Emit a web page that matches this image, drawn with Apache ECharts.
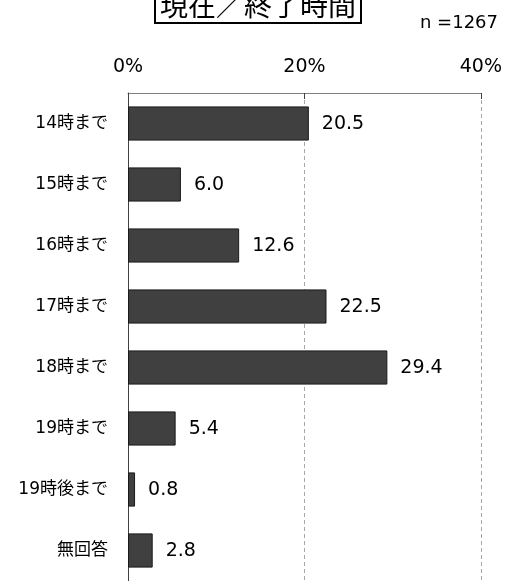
<!DOCTYPE html>
<html>
<head>
<meta charset="utf-8">
<script src="https://cdn.jsdelivr.net/npm/echarts@6/dist/echarts.min.js"></script>
<style>
  html, body { margin: 0; padding: 0; background: #fff; }
  #chart { width: 505px; height: 581px; }
</style>
</head>
<body>
<div id="chart"></div>
<script>
// 終了時間の分布（%）
var titleText = '現在／終了時間';
var sampleNote = 'n =1267';
var categories = ['14時まで', '15時まで', '16時まで', '17時まで', '18時まで', '19時まで', '19時後まで', '無回答'];
var values = [20.5, 6.0, 12.6, 22.5, 29.4, 5.4, 0.8, 2.8];
var axisMin = 0;
var axisMax = 40;
var axisStep = 20;

var latin = '"DejaVu Sans", "Noto Sans CJK JP", sans-serif';
var cjk = '"Noto Sans CJK JP", sans-serif';

var chart = echarts.init(document.getElementById('chart'), null, { renderer: 'canvas' });

chart.setOption({
  backgroundColor: '#ffffff',
  animation: false,
  title: {
    text: titleText,
    left: 155,
    top: -13,
    padding: [3, 5, 3, 5],
    borderColor: '#000000',
    borderWidth: 2,
    textStyle: {
      fontFamily: cjk,
      fontSize: 28,
      fontWeight: 'normal',
      color: '#000000',
      lineHeight: 30
    }
  },
  graphic: [{
    type: 'text',
    right: 7,
    top: 14,
    style: {
      text: sampleNote,
      font: '18px "DejaVu Sans", sans-serif',
      fill: '#000000'
    }
  }],
  grid: { left: 128, top: 93, width: 353, height: 492 },
  xAxis: {
    type: 'value',
    position: 'top',
    min: axisMin,
    max: axisMax,
    interval: axisStep,
    axisLine: { show: true, lineStyle: { color: '#808080', width: 1 } },
    axisTick: { show: true, inside: true, length: 6, lineStyle: { color: '#404040' } },
    axisLabel: {
      formatter: '{value}%',
      fontFamily: latin,
      fontSize: 19,
      color: '#000000',
      margin: 16
    },
    splitLine: { show: true, lineStyle: { color: '#a6a6a6', type: [4, 3], width: 1 } }
  },
  yAxis: {
    type: 'category',
    data: categories,
    inverse: true,
    axisLine: { show: true, lineStyle: { color: '#404040', width: 1 } },
    axisTick: { show: false },
    axisLabel: {
      fontFamily: latin,
      fontSize: 17,
      color: '#000000',
      margin: 20
    }
  },
  series: [{
    type: 'bar',
    data: values,
    barWidth: '56%',
    itemStyle: { color: '#404040', borderColor: '#1a1a1a', borderWidth: 1 },
    label: {
      show: true,
      position: 'right',
      distance: 13,
      offset: [0, 1],
      formatter: function (p) { return p.value.toFixed(1); },
      fontFamily: latin,
      fontSize: 19,
      color: '#000000'
    }
  }]
});
</script>
</body>
</html>
